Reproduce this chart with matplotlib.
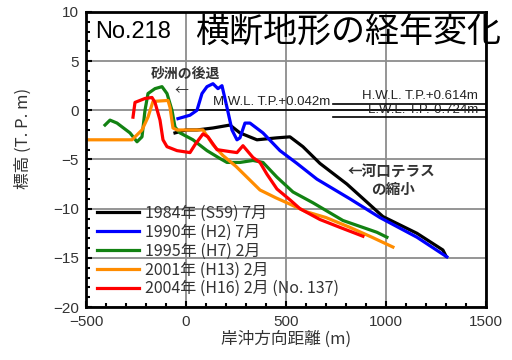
import matplotlib.pyplot as plt
from matplotlib.ticker import MultipleLocator

plt.rcParams['font.family'] = ['Noto Sans CJK JP', 'DejaVu Sans']

# 横断測量 No.218 の各年の断面
x_1984 = [-55, 0, 55, 135, 220, 270, 355, 455, 520, 585, 670, 805, 985, 1155, 1285, 1300]
y_1984 = [-2.3, -2.0, -2.0, -1.8, -1.5, -2.3, -3.0, -2.8, -2.7, -3.7, -5.4, -7.5, -10.8, -12.5, -14.2, -14.8]

x_1990 = [-40, 20, 55, 80, 105, 135, 160, 180, 205, 230, 255, 270, 295, 320, 385, 470, 555, 655, 820, 970, 1155, 1305]
y_1990 = [-0.85, -0.5, 0, 1.7, 2.4, 2.7, 2.2, 2.5, 0.3, -2.0, -3.0, -2.8, -1.3, -1.3, -2.3, -4.1, -5.4, -7.0, -9.0, -10.9, -12.9, -14.9]

x_1995 = [-405, -380, -345, -280, -245, -220, -205, -190, -155, -120, -95, -70, -55, -30, 35, 105, 170, 205, 270, 335, 385, 455, 535, 635, 785, 955, 1005]
y_1995 = [-1.5, -1.0, -1.3, -2.3, -3.2, -2.7, 0, 1.7, 2.2, 2.4, 1.7, 0, -1.7, -2.3, -3.0, -4.1, -4.9, -5.3, -5.3, -5.1, -5.3, -6.8, -8.3, -9.4, -11.2, -12.4, -12.9]

x_2001 = [-500, -270, -220, -190, -165, -90, -80, -65, -45, 85, 135, 185, 250, 320, 370, 450, 505, 600, 700, 820, 930, 1035]
y_2001 = [-3.0, -3.0, -2.0, -0.7, 0.9, 1.0, 0.3, -1.8, -2.0, -2.0, -3.5, -4.6, -5.7, -7.1, -8.1, -8.9, -9.4, -10.3, -10.9, -11.9, -12.9, -13.9]

x_2004 = [-265, -255, -205, -170, -155, -130, -115, -95, -45, 20, 45, 85, 110, 155, 220, 255, 285, 335, 370, 405, 455, 520, 570, 670, 770, 885]
y_2004 = [-0.7, 0.8, 1.2, 1.3, 0.8, -1.0, -3.0, -3.7, -4.1, -4.3, -3.5, -2.4, -2.7, -4.0, -4.2, -4.3, -3.6, -4.8, -5.3, -6.5, -8.0, -9.1, -10.0, -11.1, -11.9, -12.8]

labels = ['1984年 (S59) 7月', '1990年 (H2) 7月', '1995年 (H7) 2月',
          '2001年 (H13) 2月', '2004年 (H16) 2月 (No. 137)']
colors = ['black', '#0000ff', '#128212', '#ff8c00', '#ff0000']

mwl = 0.042
hwl = 0.614
lwl = -0.724

fig = plt.figure(figsize=(5.12, 3.6), dpi=100)
ax = fig.add_axes([0.168, 0.147, 0.781, 0.820])

ax.set_xlim(-500, 1500)
ax.set_ylim(-20, 10)
ax.xaxis.set_major_locator(MultipleLocator(500))
ax.xaxis.set_minor_locator(MultipleLocator(100))
ax.yaxis.set_major_locator(MultipleLocator(5))
ax.yaxis.set_minor_locator(MultipleLocator(1))
ax.grid(True, which='major', color='#8c8c8c', lw=1.3)
ax.set_axisbelow(True)
ax.tick_params(which='both', direction='in', top=False, right=False,
               colors='black', labelcolor='#333333', labelsize=11)
ax.tick_params(which='major', length=4, width=1.5)
ax.tick_params(which='minor', length=3, width=1.5)
ax.tick_params(axis='x', pad=6)
ax.tick_params(axis='y', pad=5)
for lab in ax.get_xticklabels() + ax.get_yticklabels():
    lab.set_family('Liberation Sans')
for sp in ax.spines.values():
    sp.set_linewidth(2)

# 水位線
ax.plot([0, 1500], [mwl, mwl], color='black', lw=1.2)
ax.plot([735, 1500], [hwl, hwl], color='black', lw=1.2)
ax.plot([735, 1500], [lwl, lwl], color='black', lw=1.2)
wl_font = dict(fontsize=9.5, family='Liberation Sans', color='#222222')
ax.text(720, mwl + 0.15, 'M.W.L. T.P.+0.042m', ha='right', va='bottom', **wl_font)
ax.text(1460, hwl + 0.2, 'H.W.L. T.P.+0.614m', ha='right', va='bottom', **wl_font)
ax.text(1460, mwl, 'L.W.L. T.P.-0.724m', ha='right', va='center', **wl_font)

xs = [x_1984, x_1990, x_1995, x_2001, x_2004]
ys = [y_1984, y_1990, y_1995, y_2001, y_2004]
for x, y, c, lab in zip(xs, ys, colors, labels):
    ax.plot(x, y, color=c, lw=2.3, label=lab, solid_joinstyle='round')

leg = ax.legend(loc='upper left', bbox_to_anchor=(0.0, 0.385), frameon=False,
                fontsize=11.5, handlelength=2.6, handletextpad=0.4,
                labelspacing=0.12, borderaxespad=0.3)
for t in leg.get_texts():
    t.set_color('#333333')

ax.text(-455, 8.0, 'No.218', fontsize=17, va='center', ha='left',
        family='Liberation Sans')
ax.text(45, 7.8, '横断地形の経年変化', fontsize=24.5, va='center', ha='left',
        clip_on=False)

ax.text(-5, 3.7, '砂洲の後退', fontsize=10, weight='bold', ha='center',
        va='center', color='#333333')
ax.text(-25, 1.9, '←', fontsize=10, ha='center', va='center', color='#333333')
ax.text(810, -6.2, '←河口テラス', fontsize=10.5, weight='bold', ha='left',
        va='center', color='#333333')
ax.text(1035, -8.0, 'の縮小', fontsize=10.5, weight='bold', ha='center',
        va='center', color='#333333')

ax.set_xlabel('岸沖方向距離 (m)', fontsize=12, color='#333333', labelpad=1)
ax.set_ylabel('標高 (T. P. m)', fontsize=12, color='#333333')
ax.yaxis.set_label_coords(-0.135, 0.57)

fig.savefig('out.png', dpi=100)
